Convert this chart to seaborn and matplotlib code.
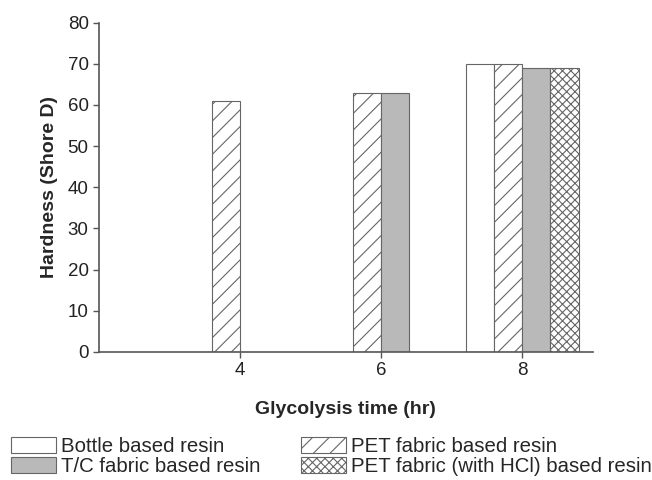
import matplotlib
matplotlib.use("Agg")
import matplotlib.pyplot as plt
import matplotlib.patches as mpatches
import seaborn as sns
import pandas as pd

# Data
times = [4, 6, 6, 8, 8, 8, 8]
resins = ["PET fabric based resin", "PET fabric based resin", "T/C fabric based resin",
          "Bottle based resin", "PET fabric based resin", "T/C fabric based resin",
          "PET fabric (with HCl) based resin"]
hardness = [61, 63, 63, 70, 70, 69, 69]
hue_order = ["Bottle based resin", "PET fabric based resin",
             "T/C fabric based resin", "PET fabric (with HCl) based resin"]
xticks = [4, 6, 8]
yticks = [0, 10, 20, 30, 40, 50, 60, 70, 80]

df = pd.DataFrame({"time": times, "resin": resins, "hardness": hardness})

sns.set_style("ticks")
plt.rcParams['font.family'] = ['Liberation Sans', 'DejaVu Sans']
plt.rcParams['hatch.color'] = '#999999'
plt.rcParams['hatch.linewidth'] = 0.8

fig = plt.figure(figsize=(6.52, 4.8), dpi=100)
ax = fig.add_axes([0.152, 0.267, 0.757, 0.686])

sns.barplot(data=df, x="time", y="hardness", hue="resin", hue_order=hue_order,
            native_scale=True, ax=ax, legend=False, width=0.8,
            edgecolor="#666666", linewidth=0.8)

styles = {
    "Bottle based resin": dict(facecolor="white", hatch=None),
    "PET fabric based resin": dict(facecolor="white", hatch="//"),
    "T/C fabric based resin": dict(facecolor="#b9b9b9", hatch=None),
    "PET fabric (with HCl) based resin": dict(facecolor="white", hatch="xxxx"),
}

for name, cont in zip(hue_order, ax.containers):
    st = styles[name]
    for p in cont.patches:
        p.set_facecolor(st["facecolor"])
        p.set_hatch(st["hatch"])
        p.set_edgecolor("#666666")

ax.set_xlim(2, 9)
ax.set_ylim(0, 80)
ax.set_xticks(xticks)
ax.set_xticklabels([str(t) for t in xticks])
ax.set_yticks(yticks)
ax.tick_params(axis='both', labelsize=13.5, labelcolor='#222222', direction='out',
               length=4.5, width=1, color="#555555", pad=3)
for s in ["top", "right"]:
    ax.spines[s].set_visible(False)
for s in ["left", "bottom"]:
    ax.spines[s].set_color("#555555")
    ax.spines[s].set_linewidth(1.2)

ax.set_xlabel("Glycolysis time (hr)", fontsize=14, fontweight="bold", labelpad=16)
ax.set_ylabel("Hardness (Shore D)", fontsize=14, fontweight="bold", labelpad=7)

handles = []
order = ["Bottle based resin", "T/C fabric based resin",
         "PET fabric based resin", "PET fabric (with HCl) based resin"]
for name in order:
    st = styles[name]
    handles.append(mpatches.Patch(facecolor=st["facecolor"], hatch=st["hatch"],
                                  edgecolor="#666666", linewidth=0.8, label=name))
fig.legend(handles=handles, loc="lower left", bbox_to_anchor=(0.01, 0.0), ncol=2,
           frameon=False, fontsize=14.7, handlelength=2.2, handleheight=0.8,
           columnspacing=2.0, handletextpad=0.25, labelspacing=0.05,
           borderaxespad=0.0, borderpad=0.2)

fig.savefig("out.png", dpi=100)
